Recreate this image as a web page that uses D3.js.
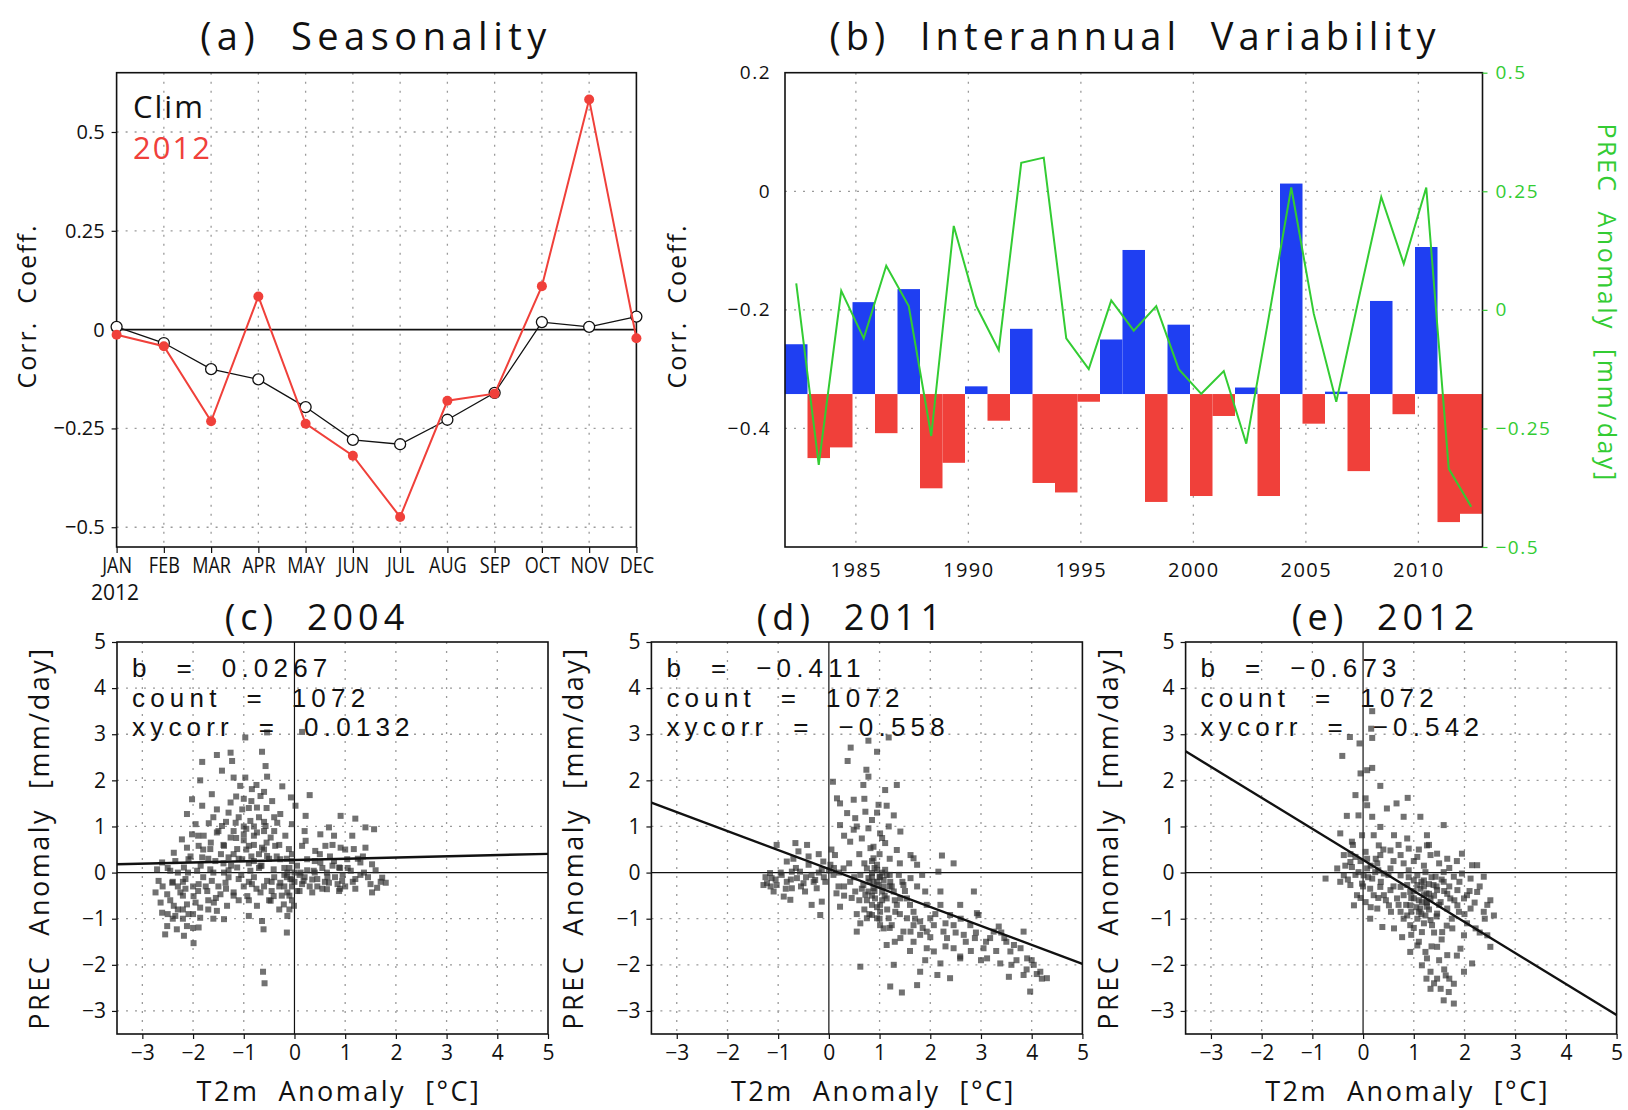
<!DOCTYPE html>
<html>
<head>
<meta charset="utf-8">
<script src="https://cdn.jsdelivr.net/npm/d3@7"></script>
<style>
  body { margin: 0; background: #fff; }
  text { font-family: "Open Sans", "Liberation Sans", sans-serif; font-weight: 400; fill: #111; }
</style>
</head>
<body>
<div id="chart"></div>
<script>

// ============================
// Data
// ============================

const months = ["JAN","FEB","MAR","APR","MAY","JUN","JUL","AUG","SEP","OCT","NOV","DEC"];
const climCorr = [0.007, -0.034, -0.10, -0.126, -0.196, -0.279, -0.29, -0.228, -0.16, 0.019, 0.007, 0.033];
const corr2012 = [-0.013, -0.042, -0.232, 0.084, -0.238, -0.319, -0.474, -0.18, -0.162, 0.110, 0.582, -0.022];

const years = [1982,1983,1984,1985,1986,1987,1988,1989,1990,1991,1992,1993,1994,1995,1996,
               1997,1998,1999,2000,2001,2002,2003,2004,2005,2006,2007,2008,2009,2010,2011,2012];
const yearCorr = [-0.258,-0.450,-0.432,-0.187,-0.408,-0.165,-0.501,-0.458,-0.329,-0.387,-0.232,
                  -0.492,-0.508,-0.355,-0.250,-0.099,-0.524,-0.225,-0.514,-0.379,-0.331,-0.514,
                  0.013,-0.392,-0.338,-0.472,-0.185,-0.376,-0.094,-0.558,-0.544];
const corrMean = -0.342;
const precAnom = [0.056,-0.327,0.040,-0.060,0.093,0.008,-0.266,0.177,0.008,-0.085,0.310,0.321,
                  -0.060,-0.125,0.020,-0.044,0.008,-0.125,-0.177,-0.129,-0.282,-0.016,0.258,
                  -0.008,-0.194,0.024,0.238,0.097,0.258,-0.335,-0.415];

const yearTicks = [1985, 1990, 1995, 2000, 2005, 2010];

// scatter panels: T2m anomaly (x), PREC anomaly (y)
const scat2004 = [
  [-0.97,2.93],[-0.54,3.04],[0.15,3.05],[-0.64,2.62],[-1.53,2.55],[-1.26,2.60],[-1.82,2.40],[-1.43,2.21],
  [-1.23,2.42],[-0.57,2.31],[-1.86,2.00],[-1.20,2.06],[-0.97,2.06],[-0.84,1.81],[-0.54,2.08],[-0.24,1.87],
  [-0.07,1.63],[0.30,1.68],[-2.02,1.59],[-1.63,1.70],[-1.07,1.88],[-0.67,1.66],[-0.44,1.55],[-2.12,1.27],
  [-1.82,1.45],[-1.53,1.37],[-1.26,1.52],[-1.03,1.37],[-0.74,1.41],[-0.28,1.27],[0.02,1.45],[0.22,1.23],
  [0.91,1.23],[1.20,1.17],[-1.95,1.05],[-1.69,1.07],[-1.43,1.01],[-1.16,1.08],[-0.87,1.12],[-0.57,1.01],
  [-0.34,1.08],[-0.05,1.05],[0.68,0.98],[1.40,0.98],[1.57,0.94],[-2.22,0.72],[-2.02,0.83],[-1.79,0.80],
  [-1.53,0.87],[-1.26,0.76],[-1.00,0.83],[-0.74,0.87],[-0.47,0.76],[-0.18,0.80],[0.22,0.69],[0.51,0.83],
  [0.78,0.80],[1.14,0.80],[-2.38,0.43],[-2.12,0.54],[-1.89,0.58],[-1.66,0.51],[-1.39,0.58],[-1.13,0.51],
  [-0.90,0.58],[-0.64,0.54],[-0.38,0.58],[-0.11,0.51],[0.15,0.58],[0.41,0.47],[0.61,0.58],[0.91,0.54],
  [1.17,0.51],[1.40,0.54],[-2.61,0.22],[-2.35,0.25],[-2.09,0.29],[-1.82,0.33],[-1.56,0.25],[-1.30,0.33],
  [-1.03,0.29],[-0.80,0.25],[-0.54,0.36],[-0.28,0.29],[-0.05,0.25],[0.25,0.29],[0.51,0.22],[0.78,0.25],
  [1.04,0.29],[1.30,0.22],[1.53,0.18],[-2.71,0.07],[-2.45,0.04],[-2.18,0.11],[-1.92,0.04],[-1.66,0.07],
  [-1.39,0.00],[-1.13,0.11],[-0.87,0.04],[-0.67,0.14],[-0.41,0.07],[-0.14,0.00],[0.12,0.00],[0.38,0.04],
  [0.64,0.00],[0.88,0.11],[1.11,0.04],[1.37,0.00],[1.73,-0.11],[1.80,-0.22],[-2.68,-0.18],[-2.41,-0.22],
  [-2.15,-0.14],[-1.89,-0.25],[-1.63,-0.18],[-1.36,-0.22],[-1.10,-0.14],[-0.84,-0.25],[-0.54,-0.18],[-0.28,-0.22],
  [-0.08,-0.14],[0.18,-0.18],[0.45,-0.14],[0.68,-0.22],[0.94,-0.18],[1.20,-0.14],[1.50,-0.25],[1.63,-0.33],
  [-2.74,-0.43],[-2.51,-0.47],[-2.25,-0.43],[-1.99,-0.51],[-1.72,-0.40],[-1.46,-0.47],[-1.20,-0.43],[-0.93,-0.51],
  [-0.67,-0.43],[-0.41,-0.51],[-0.14,-0.43],[0.05,-0.40],[0.35,-0.43],[0.64,-0.36],[0.88,-0.40],[1.53,-0.43],
  [-2.64,-0.65],[-2.38,-0.72],[-2.12,-0.69],[-1.86,-0.76],[-1.59,-0.65],[-1.33,-0.72],[-0.74,-0.72],[-0.47,-0.61],
  [-0.21,-0.69],[-0.01,-0.72],[-2.61,-0.87],[-2.35,-0.94],[-2.09,-0.90],[-1.86,-0.98],[-1.53,-0.83],[-0.90,-0.94],
  [-0.64,-1.05],[-0.14,-0.94],[-2.51,-1.16],[-2.32,-1.23],[-2.12,-1.16],[-1.89,-1.19],[-2.55,-1.34],[-2.18,-1.37],
  [-1.99,-1.53],[-1.39,-1.01],[-0.61,-1.23],[-0.15,-1.30],[-0.62,-2.15],[-0.59,-2.40],
  [-1.2,0.9],[-1.0,0.7],[-0.8,0.6],[-0.7,1.2],[-0.9,1.4],[-1.1,1.2],[-0.6,0.9],[-0.5,0.3],[-0.7,0.4],
  [-0.9,0.2],[-1.2,0.4],[-1.4,0.2],[-1.6,0.0],[-1.8,-0.1],[-2.0,-0.3],[-2.2,-0.5],[-2.3,-0.8],[-2.0,-0.9],
  [-1.7,-0.6],[-1.5,-0.3],[-1.3,-0.1],[-1.0,-0.3],[-0.8,-0.1],[-0.6,-0.3],[-0.4,-0.1],[-0.2,-0.3],[-0.1,-0.5],
  [0.0,-0.2],[0.1,-0.4],[0.2,-0.1],[0.3,-0.3],[0.4,0.0],[0.6,-0.2],[0.8,-0.1],[0.9,0.1],[1.0,-0.3],[-0.3,0.6],
  [-0.2,0.1],[-1.5,0.9],[-1.7,0.3],[-1.9,0.8],[-2.4,-0.2],[-2.5,0.1],[-1.1,-0.6],[-0.9,-0.6],[-0.3,-0.8],
  [-0.05,-0.6],[-0.15,0.3],[-0.55,1.4],[-1.35,1.1],[-0.75,1.9],[-1.6,-1.0],[-2.2,-1.0],[-0.45,-0.4],[0.5,0.4],
  [1.25,0.3],[1.45,-0.1],[0.75,0.6],[-0.05,0.4],[-0.95,0.5],
  [-2.6,-0.3],[-2.45,-0.6],[-2.3,0.0],[-2.15,-0.35],[-2.05,0.35],[-1.95,-0.65],[-1.85,0.15],[-1.75,-0.3],
  [-1.65,0.65],[-1.55,-0.55],[-1.45,0.4],[-1.35,-0.35],[-1.25,0.15],[-1.15,0.75],[-1.05,-0.05],[-0.95,0.95],
  [-0.85,0.35],[-0.75,-0.35],[-0.65,0.15],[-0.55,0.65],[-0.45,-0.2],[-0.35,0.35],[-0.25,-0.5],[-0.15,-0.1],
  [-0.05,-0.3],[0.05,0.15],[0.15,-0.25],[0.25,0.05],[0.35,-0.15],[0.45,-0.3],[0.55,0.1],[0.65,-0.1],
  [0.75,0.15],[0.85,-0.25],[0.95,-0.05],[1.05,0.1],[1.15,-0.2],[1.3,-0.05],[1.6,0.05],[1.7,-0.2],
  [-1.0,1.6],[-0.8,1.0],[-1.3,1.3],[-0.6,1.1],[-0.4,0.9],[-1.6,1.2],[-1.8,0.5],[-2.1,0.0],[-2.3,-0.3],
  [-2.5,-0.9],[-2.4,-1.0],[-2.2,-0.2],[-1.9,-0.4],[-1.2,-0.5],[-0.9,-0.2],[-0.7,0.1],[-0.5,-0.6],[-0.3,-0.3],
  [-0.1,-0.8],[0.0,0.0],[-0.2,-0.05],[-0.05,-0.15],[0.1,-0.05],[-0.1,0.1],[-1.1,0.3],[-1.4,0.6],[-0.8,0.8],
  [-1.0,1.0],[-0.6,0.5],[-1.7,-0.8],[-2.0,-1.2],[-2.2,-0.8],[-1.3,0.05],[-0.4,1.2],[-1.15,1.65],[-0.85,1.55],
  [-0.6,1.75],[0.2,0.9],[0.4,0.25],[0.7,0.35],[1.0,0.5],[1.2,-0.35],[1.35,0.35],[0.9,-0.35],[0.55,-0.35]
];

const scat2011 = [
  [0.78,2.86],[1.18,2.93],[0.43,2.71],[0.95,2.62],[0.37,2.42],[0.74,2.23],[0.78,2.08],[0.68,1.90],[1.34,1.90],
  [1.11,1.79],[0.08,1.97],[0.98,1.47],[1.14,1.45],[0.16,1.61],[0.22,1.50],[0.49,1.58],[0.72,1.32],[1.28,1.24],
  [0.36,1.29],[0.52,1.18],[0.85,1.14],[1.41,0.89],[0.22,1.03],[0.49,0.93],[0.78,0.96],[1.01,0.85],[1.18,1.00],
  [2.23,0.37],[2.46,0.20],[0.42,0.67],[0.65,0.74],[0.88,0.56],[1.11,0.64],[1.34,0.49],[1.61,0.38],[1.74,0.17],
  [1.67,0.31],[2.16,0.02],[-1.22,-0.23],[-1.13,-0.12],[-1.03,-0.27],[-0.93,-0.05],[-0.83,-0.20],[-0.73,-0.34],
  [-0.63,-0.12],[-0.57,0.02],[-0.50,-0.23],[-0.40,0.17],[-0.34,-0.05],[-0.24,-0.34],[-0.14,0.06],[-0.11,0.24],
  [-0.07,-0.20],[-1.09,-0.41],[-0.89,-0.52],[-0.76,-0.59],[-0.60,0.46],[-0.43,0.60],[-0.66,0.64],[-1.03,0.60],
  [-0.83,0.24],[-0.34,-0.70],[-0.17,-0.92],[-0.14,-0.63],[-1.29,-0.27],[-1.16,-0.01],[-0.73,0.02],[-0.47,-0.41],
  [-0.27,-0.16],[0.03,0.17],[0.09,-0.05],[0.19,-0.30],[0.22,-0.74],[0.12,0.38],[0.29,0.09],[0.42,-0.20],
  [0.52,-0.41],[0.75,0.09],[0.85,-0.01],[0.95,0.17],[0.88,-0.20],[1.01,-0.09],[1.11,0.06],[1.08,-0.30],
  [1.21,-0.20],[0.78,-0.41],[0.91,-0.56],[0.85,-0.70],[1.01,-0.85],[1.14,-0.56],[1.28,-0.41],[1.38,-0.05],
  [1.47,-0.27],[0.68,-0.27],[0.62,-0.05],[0.88,0.31],[0.82,0.53],[0.95,-0.99],[0.75,-0.99],[0.55,-1.28],
  [0.62,-1.10],[1.08,-1.21],[1.24,-1.14],[1.34,-0.70],[1.54,-0.56],[1.67,-0.85],[1.61,-1.28],[1.80,-1.06],
  [1.41,-1.42],[1.14,-1.57],[1.28,-2.00],[1.67,-1.50],[1.93,-1.28],[2.00,-0.99],[1.90,-0.41],[2.20,-0.41],
  [2.20,-0.70],[2.39,-0.92],[2.26,-1.28],[2.07,-1.71],[2.20,-1.97],[1.80,-2.15],[1.74,-2.44],[1.44,-2.60],
  [1.21,-2.47],[2.14,-2.22],[2.39,-2.29],[0.62,-2.04],[2.46,-1.64],[2.59,-1.86],[2.66,-1.35],[2.79,-1.14],
  [2.86,-0.41],[2.59,-0.70],[2.95,-0.92],[2.88,-1.42],[3.05,-1.64],[3.25,-1.28],[3.35,-1.17],[3.46,-1.42],
  [3.12,-1.86],[3.38,-1.97],[3.58,-1.71],[3.65,-1.57],[3.78,-1.64],[3.84,-1.28],[3.91,-1.86],[4.04,-2.00],
  [4.17,-2.15],[4.30,-2.29],[3.97,-2.58],[3.84,-2.22],[3.55,-2.26],[2.59,-1.82],[2.92,-0.88],[3.18,-1.42],
  [2.46,-1.14],[1.93,-0.70],[1.74,-0.30],[1.84,-0.05],[1.61,-0.12],
  [0.85,-0.09],[0.98,-0.27],[1.05,-0.41],[0.88,-0.34],[1.14,-0.05],[0.78,-0.12],[0.95,0.06],[1.08,-0.16],
  [1.24,-0.30],[0.72,-0.48],[0.85,-0.92],[1.01,-0.70],[1.18,-0.99],[1.31,-0.85],[1.41,-0.56],[1.54,-0.99],
  [1.01,-1.14],[1.67,-1.14],[1.47,-1.28],[1.80,-1.35],[2.07,-1.14],[2.33,-1.42],[1.93,-1.64],
  [0.8,-0.2],[0.9,-0.4],[1.0,-0.1],[1.1,-0.5],[1.2,-0.3],[0.75,-0.6],[0.95,-0.75],[1.15,-0.8],[1.05,0.0],
  [0.9,0.1],[0.85,0.25],[1.0,0.4],[0.7,0.2],[0.8,-0.9],[1.0,-1.0],[1.2,-1.2],[1.3,-0.6],[1.4,-0.9],
  [1.5,-0.4],[1.6,-0.7],[1.7,-1.0],[1.85,-1.2],[2.0,-1.4],[2.1,-0.9],[2.3,-1.1],[2.5,-1.3],[2.7,-1.5],
  [2.9,-1.3],[3.1,-1.5],[3.3,-1.7],[3.5,-1.5],[3.7,-1.9],[3.9,-2.1],[4.1,-2.2],[3.0,-1.9],[2.8,-1.7],
  [2.3,-1.6],[1.9,-1.9],[1.6,-1.7],[1.3,-1.5],[0.7,-0.8],[0.6,-0.6],[0.5,-0.1],[0.4,0.2],[0.3,-0.5],
  [0.2,0.0],[0.1,0.1],[0.0,0.05],[-0.1,-0.1],[-0.2,0.0],[-0.3,-0.2],[-0.45,-0.1],[-0.55,-0.3],[-0.65,0.1],
  [-0.75,-0.15],[-0.85,-0.35],[-0.95,0.0],[-1.05,-0.15],[-1.15,-0.3],[-1.25,-0.1],[-0.7,0.3],[-0.4,0.35],
  [-0.2,0.4],[0.05,0.5],[0.3,0.8],[0.55,1.0],[0.6,0.4],[0.95,1.3],[0.7,1.6],[1.05,0.75],[1.2,0.3],
  [1.4,0.2],[1.45,-0.2],[1.2,-0.05],[0.95,-0.2],[0.85,-0.5],[1.05,-0.6],[0.65,-0.35],[0.55,-0.9],
  [0.45,-0.55],[0.3,-0.3],[0.15,-0.45],[2.6,-1.0],[3.4,-1.3],[3.6,-2.0],[4.0,-1.9],[4.2,-2.3]
];

const scat2012 = [
  [0.18,3.50],[0.16,3.12],[0.18,2.92],[-0.07,2.80],[-0.26,2.94],[-0.41,2.53],[0.18,2.27],[-0.05,2.15],
  [0.08,2.22],[0.34,1.88],[-0.15,1.68],[0.05,1.61],[0.08,1.46],[0.88,1.62],[0.66,1.50],[1.13,1.21],
  [1.59,1.03],[-0.32,1.23],[-0.09,1.24],[0.18,1.21],[0.47,1.39],[0.80,1.21],[0.34,0.99],[-0.45,0.85],
  [-0.22,0.67],[-0.02,0.81],[0.21,0.81],[0.61,0.81],[0.87,0.74],[1.26,0.81],[0.54,0.48],[0.31,0.59],
  [0.90,0.52],[1.26,0.59],[1.46,0.41],[1.95,0.41],[-0.38,0.38],[-0.15,0.34],[0.08,0.30],[0.34,0.38],
  [0.74,0.38],[1.07,0.34],[1.33,0.38],[1.66,0.30],[2.15,0.16],[2.25,0.16],[-0.74,-0.13],[-0.51,0.09],
  [-0.38,-0.06],[-0.22,0.12],[-0.09,0.01],[0.08,0.09],[0.24,0.01],[0.41,-0.02],[0.54,0.09],[0.74,-0.06],
  [0.90,0.05],[1.07,-0.06],[1.23,0.01],[1.43,-0.09],[1.59,0.01],[1.79,-0.09],[1.95,-0.02],[2.12,-0.13],
  [2.38,-0.09],[-0.45,-0.20],[-0.25,-0.27],[-0.02,-0.24],[0.14,-0.35],[0.34,-0.31],[0.54,-0.38],[0.74,-0.31],
  [0.93,-0.42],[1.13,-0.35],[1.30,-0.46],[1.46,-0.38],[1.66,-0.46],[1.86,-0.38],[2.05,-0.49],[2.25,-0.42],
  [2.51,-0.60],[-0.18,-0.71],[0.05,-0.64],[0.28,-0.78],[0.51,-0.71],[0.74,-0.85],[0.93,-0.71],[1.10,-0.85],
  [1.26,-0.74],[1.46,-0.89],[1.66,-0.78],[1.89,-0.85],[2.12,-0.78],[2.38,-0.85],[2.58,-0.93],[0.14,-1.00],
  [0.38,-1.18],[0.61,-1.21],[0.77,-1.40],[0.93,-1.14],[1.16,-1.29],[1.36,-1.14],[1.56,-1.29],[1.76,-1.21],
  [1.99,-1.36],[2.22,-1.21],[2.51,-1.61],[2.45,-1.36],[1.07,-1.58],[1.23,-1.72],[1.46,-1.61],[1.66,-1.79],
  [1.92,-1.65],[2.15,-1.97],[1.16,-2.01],[1.33,-2.15],[1.46,-2.30],[1.63,-2.23],[1.79,-2.41],[1.33,-2.52],
  [1.69,-2.59],[1.59,-2.77],[1.79,-2.84],[1.26,-1.86],[1.99,-2.15],[1.53,-2.52],[0.93,-1.72],
  [1.07,-0.27],[1.20,-0.49],[1.26,-0.64],[1.16,-0.64],[1.33,-0.56],[1.00,-0.56],[0.87,-0.27],[0.80,-0.49],
  [1.39,-0.27],[1.53,-0.64],[1.13,-0.78],[1.23,-0.93],[1.33,-1.03],[1.07,-1.00],[0.87,-0.93],[0.67,-0.56],
  [0.41,-0.49],[0.21,-0.49],[-0.12,-0.49],[0.01,-0.06],[-0.25,0.23],[0.18,-0.13],[0.28,0.20],[1.20,-0.17],
  [1.00,-0.17],[1.59,-0.20],[1.72,-0.56],[1.86,-0.71],[1.99,-0.56],
  [1.0,-0.4],[1.1,-0.6],[1.2,-0.3],[1.3,-0.8],[1.4,-0.5],[1.5,-0.7],[1.6,-0.4],[1.25,-0.45],[1.15,-0.2],
  [1.05,-0.75],[0.95,-0.55],[0.9,-0.1],[0.85,-0.7],[1.35,-0.1],[1.45,-0.95],[1.55,-0.15],[1.7,-0.3],
  [1.8,-0.6],[1.9,-0.2],[2.0,-0.9],[2.1,-0.4],[2.2,-0.65],[2.3,-0.3],[2.4,-1.0],[2.45,-0.7],[1.75,-1.0],
  [1.65,-1.15],[1.4,-1.3],[1.2,-1.1],[1.0,-1.2],[0.8,-1.0],[0.7,-0.7],[0.6,-0.3],[0.5,-0.05],[0.45,-0.6],
  [0.35,-0.2],[0.25,0.3],[0.15,0.15],[0.05,0.45],[-0.05,0.25],[-0.15,-0.05],[-0.25,0.4],[-0.35,0.15],
  [-0.3,-0.15],[-0.2,0.6],[0.0,-0.3],[0.1,-0.1],[0.3,0.05],[0.4,0.5],[0.6,0.25],[0.7,0.6],[0.8,0.2],
  [1.0,0.25],[1.1,0.5],[1.2,0.15],[1.3,0.6],[1.5,0.2],[1.7,0.1],[1.85,0.25],[1.35,-1.6],[1.5,-1.9],
  [1.6,-2.1],[1.4,-2.4],[1.25,-2.3],[1.7,-2.3],[1.85,-1.8],[1.1,-1.5],[0.95,-1.35],[1.55,-1.45],
  [2.05,-1.1],[2.3,-1.3],[0.55,-0.85],[0.3,-0.55],[0.15,-0.75],[-0.05,-0.55],[1.45,-0.3],[1.3,-0.25],
  [1.15,-0.9],[0.95,-0.85],[1.25,-0.65]
];

const scatTitles = ["(c)  2004", "(d)  2011", "(e)  2012"];
const regSlope = [0.0267, -0.411, -0.673];
const regIntercept = [0.273, 0.078, 0.275];
const regCount = [1072, 1072, 1072];
const regCorr = ["0.0132", "\u22120.558", "\u22120.542"];
const regSlopeText = ["0.0267", "\u22120.411", "\u22120.673"];
const scatTicks = [-3, -2, -1, 0, 1, 2, 3, 4, 5];

// ============================
// Intial setup
// ============================

const width = 1628, height = 1110;
const red = "#f0403a", blue = "#1f3ff2", green = "#33cc33";

const svg = d3.select("#chart").append("svg")
  .attr("width", width).attr("height", height)
  .attr("viewBox", [0, 0, width, height]);

const fmt = d => d === 0 ? "0" : d3.format("~g")(d);

function dotted(g) {
  g.attr("stroke", "#9a9a9a").attr("stroke-width", 1.3).attr("stroke-dasharray", "2,7").attr("fill", "none");
}

function frame(box) {
  svg.append("rect")
    .attr("x", box.left).attr("y", box.top)
    .attr("width", box.right - box.left).attr("height", box.bottom - box.top)
    .attr("fill", "none").attr("stroke", "#111").attr("stroke-width", 1.6);
}

function styleAxis(g, size) {
  g.select(".domain").remove();
  g.selectAll(".tick line").attr("stroke", "#111").attr("stroke-width", 1.2);
  g.selectAll(".tick text").attr("font-size", size).attr("fill", "#111")
    .style("font-family", "'Open Sans','Liberation Sans',sans-serif");
}

// ============================
// (a) Seasonality
// ============================

const aBox = {left: 116.6, right: 636.4, top: 72.7, bottom: 547};
const xMon = d3.scalePoint().domain(months).range([aBox.left, aBox.right]);
const yA = d3.scaleLinear().domain([-0.55, 0.65]).range([aBox.bottom, aBox.top]);
const aTicks = [-0.5, -0.25, 0, 0.25, 0.5];

const gridA = svg.append("g").call(dotted);
gridA.selectAll(".v").data(months.slice(1, -1)).join("line")
  .attr("x1", d => xMon(d)).attr("x2", d => xMon(d))
  .attr("y1", aBox.top).attr("y2", aBox.bottom);
gridA.selectAll(".h").data(aTicks.filter(d => d !== 0)).join("line")
  .attr("x1", aBox.left).attr("x2", aBox.right)
  .attr("y1", d => yA(d)).attr("y2", d => yA(d));

svg.append("line")
  .attr("x1", aBox.left).attr("x2", aBox.right)
  .attr("y1", yA(0)).attr("y2", yA(0))
  .attr("stroke", "#111").attr("stroke-width", 1.6);

frame(aBox);

svg.append("g")
  .attr("transform", `translate(${aBox.left},0)`)
  .call(d3.axisLeft(yA).tickValues(aTicks).tickFormat(fmt).tickSize(5).tickPadding(7))
  .call(styleAxis, 20);

svg.append("g")
  .attr("transform", `translate(0,${aBox.bottom})`)
  .call(d3.axisBottom(xMon).tickSize(6).tickPadding(5))
  .call(styleAxis, 21)
  .call(g => g.selectAll(".tick text").attr("transform", "scale(0.86,1)"));

svg.append("text").attr("x", 91).attr("y", 600).attr("font-size", 21).text("2012");

const line = d3.line().x((d, i) => xMon(months[i])).y(d => yA(d));

svg.append("path").datum(climCorr)
  .attr("d", line).attr("fill", "none").attr("stroke", "#111").attr("stroke-width", 1.3);
svg.append("g").selectAll("circle").data(climCorr).join("circle")
  .attr("cx", (d, i) => xMon(months[i])).attr("cy", d => yA(d)).attr("r", 5.5)
  .attr("fill", "#fff").attr("stroke", "#111").attr("stroke-width", 1.3);

svg.append("path").datum(corr2012)
  .attr("d", line).attr("fill", "none").attr("stroke", red).attr("stroke-width", 2);
svg.append("g").selectAll("circle").data(corr2012).join("circle")
  .attr("cx", (d, i) => xMon(months[i])).attr("cy", d => yA(d)).attr("r", 5)
  .attr("fill", red);

svg.append("text").attr("x", 133).attr("y", 118).attr("font-size", 31).attr("letter-spacing", 2).text("Clim");
svg.append("text").attr("x", 133).attr("y", 159).attr("font-size", 31).attr("letter-spacing", 2)
  .style("fill", red).text("2012");

svg.append("text")
  .attr("transform", "translate(36,306) rotate(-90)")
  .attr("text-anchor", "middle").attr("font-size", 25).attr("letter-spacing", 2)
  .attr("xml:space", "preserve").text("Corr.  Coeff.");

svg.append("text")
  .attr("x", 376).attr("y", 50).attr("text-anchor", "middle")
  .attr("font-size", 38).attr("letter-spacing", 5.5)
  .attr("xml:space", "preserve").text("(a)  Seasonality");

// ============================
// (b) Interannual variability
// ============================

const bBox = {left: 785, right: 1482.5, top: 72.7, bottom: 547};
const xYear = d3.scaleLinear().domain([1981.85, 2012.85]).range([bBox.left, bBox.right]);
const yB = d3.scaleLinear().domain([-0.6, 0.2]).range([bBox.bottom, bBox.top]);
const yP = d3.scaleLinear().domain([-0.5, 0.5]).range([bBox.bottom, bBox.top]);
const bTicks = [-0.4, -0.2, 0, 0.2];
const pTicks = [-0.5, -0.25, 0, 0.25, 0.5];

const gridB = svg.append("g").call(dotted);
gridB.selectAll(".v").data(yearTicks).join("line")
  .attr("x1", d => xYear(d)).attr("x2", d => xYear(d))
  .attr("y1", bBox.top).attr("y2", bBox.bottom);
gridB.selectAll(".h").data([-0.4, -0.2, 0]).join("line")
  .attr("x1", bBox.left).attr("x2", bBox.right)
  .attr("y1", d => yB(d)).attr("y2", d => yB(d));

svg.append("g").selectAll("rect").data(yearCorr).join("rect")
  .attr("x", (d, i) => xYear(years[i] - 0.15))
  .attr("width", (d, i) => xYear(years[i] + 0.85) - xYear(years[i] - 0.15))
  .attr("y", d => yB(Math.max(d, corrMean)))
  .attr("height", d => Math.abs(yB(d) - yB(corrMean)))
  .attr("fill", d => d >= corrMean ? blue : red);

svg.append("path").datum(precAnom)
  .attr("d", d3.line().x((d, i) => xYear(years[i] + 0.35)).y(d => yP(d)))
  .attr("fill", "none").attr("stroke", green).attr("stroke-width", 2);

frame(bBox);

svg.append("g")
  .attr("transform", `translate(${bBox.left},0)`)
  .call(d3.axisLeft(yB).tickValues(bTicks).tickFormat(fmt).tickSize(0).tickPadding(14))
  .call(styleAxis, 19)
  .call(g => g.selectAll(".tick text").attr("letter-spacing", 1.5));

svg.append("g")
  .attr("transform", `translate(${bBox.right},0)`)
  .call(d3.axisRight(yP).tickValues(pTicks).tickFormat(fmt).tickSize(5).tickPadding(8))
  .call(styleAxis, 19)
  .call(g => g.selectAll(".tick line").attr("stroke", green))
  .call(g => g.selectAll(".tick text").attr("letter-spacing", 1.5).attr("fill", green).style("fill", green));

svg.append("g")
  .attr("transform", `translate(0,${bBox.bottom})`)
  .call(d3.axisBottom(xYear).tickValues(yearTicks).tickFormat(d3.format("d")).tickSize(0).tickPadding(16))
  .call(styleAxis, 20)
  .call(g => g.selectAll(".tick text").attr("letter-spacing", 1.5));

svg.append("text")
  .attr("transform", "translate(686,306) rotate(-90)")
  .attr("text-anchor", "middle").attr("font-size", 25).attr("letter-spacing", 2)
  .attr("xml:space", "preserve").text("Corr.  Coeff.");

svg.append("text")
  .attr("transform", "translate(1598,303) rotate(90)")
  .attr("text-anchor", "middle").attr("font-size", 25).attr("letter-spacing", 2.5)
  .style("fill", green)
  .attr("xml:space", "preserve").text("PREC  Anomaly  [mm/day]");

svg.append("text")
  .attr("x", 1135).attr("y", 50).attr("text-anchor", "middle")
  .attr("font-size", 38).attr("letter-spacing", 5)
  .attr("xml:space", "preserve").text("(b)  Interannual  Variability");

// ============================
// (c)-(e) scatter panels
// ============================

const scatData = [scat2004, scat2011, scat2012];
const scatLefts = [117, 651.4, 1185.6];

scatData.forEach((pts, k) => {
  const box = {left: scatLefts[k], right: scatLefts[k] + 431, top: 642, bottom: 1034};
  const xs = d3.scaleLinear().domain([-3.5, 5]).range([box.left, box.right]);
  const ys = d3.scaleLinear().domain([-3.5, 5]).range([box.bottom, box.top]);
  const inner = scatTicks.filter(d => d !== 0 && d !== 5);

  const grid = svg.append("g").call(dotted);
  grid.selectAll(".v").data(inner).join("line")
    .attr("x1", d => xs(d)).attr("x2", d => xs(d))
    .attr("y1", box.top).attr("y2", box.bottom);
  grid.selectAll(".h").data(inner).join("line")
    .attr("x1", box.left).attr("x2", box.right)
    .attr("y1", d => ys(d)).attr("y2", d => ys(d));

  const zero = svg.append("g").attr("stroke", "#111").attr("stroke-width", 1.2);
  zero.append("line").attr("x1", xs(0)).attr("x2", xs(0)).attr("y1", box.top).attr("y2", box.bottom);
  zero.append("line").attr("x1", box.left).attr("x2", box.right).attr("y1", ys(0)).attr("y2", ys(0));

  svg.append("g").selectAll("rect").data(pts).join("rect")
    .attr("x", d => xs(d[0]) - 3).attr("y", d => ys(d[1]) - 3)
    .attr("width", 6).attr("height", 6)
    .attr("fill", "#2e2e2e").attr("fill-opacity", 0.68);

  svg.append("line")
    .attr("x1", xs(-3.5)).attr("y1", ys(regIntercept[k] + regSlope[k] * -3.5))
    .attr("x2", xs(5)).attr("y2", ys(regIntercept[k] + regSlope[k] * 5))
    .attr("stroke", "#111").attr("stroke-width", 2.4);

  frame(box);

  svg.append("g")
    .attr("transform", `translate(${box.left},0)`)
    .call(d3.axisLeft(ys).tickValues(scatTicks).tickFormat(fmt).tickSize(5).tickPadding(6))
    .call(styleAxis, 21);

  svg.append("g")
    .attr("transform", `translate(0,${box.bottom})`)
    .call(d3.axisBottom(xs).tickValues(scatTicks).tickFormat(fmt).tickSize(5).tickPadding(6))
    .call(styleAxis, 21);

  // fit statistics, three lines in a compact font
  const notes = [
    `b  =  ${regSlopeText[k]}`,
    `count  =  ${regCount[k]}`,
    `xycorr  =  ${regCorr[k]}`
  ];
  svg.append("g").selectAll("text").data(notes).join("text")
    .attr("x", box.left + 15).attr("y", (d, i) => 677 + i * 29.5)
    .attr("font-size", 26).attr("letter-spacing", 5.2)
    .style("font-family", "'Liberation Sans', Arial, sans-serif")
    .attr("xml:space", "preserve")
    .text(d => d);

  svg.append("text")
    .attr("x", box.left + 200).attr("y", 630).attr("text-anchor", "middle")
    .attr("font-size", 36).attr("letter-spacing", 5)
    .attr("xml:space", "preserve").text(scatTitles[k]);

  svg.append("text")
    .attr("transform", `translate(${box.left - 68},${(box.top + box.bottom) / 2}) rotate(-90)`)
    .attr("text-anchor", "middle").attr("font-size", 27).attr("letter-spacing", 2.5)
    .attr("xml:space", "preserve").text("PREC  Anomaly  [mm/day]");

  svg.append("text")
    .attr("x", box.left + 222).attr("y", 1101).attr("text-anchor", "middle")
    .attr("font-size", 27).attr("letter-spacing", 2.5)
    .attr("xml:space", "preserve").text("T2m  Anomaly  [\u00B0C]");
});

</script>
</body>
</html>
